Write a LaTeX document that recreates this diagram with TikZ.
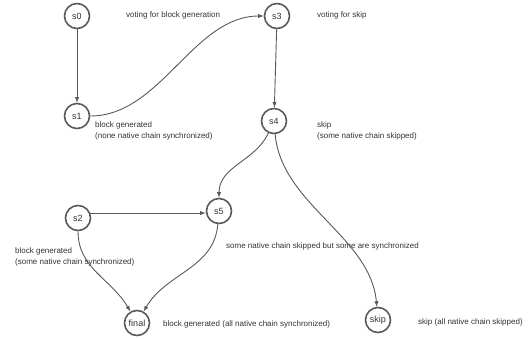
\documentclass[tikz,border=0pt]{standalone}
\usepackage{fontspec}
\setmainfont{Liberation Sans}
\usepackage{tikz}
\definecolor{edgegray}{HTML}{595959}
\definecolor{textgray}{HTML}{333333}

\begin{document}
\begin{tikzpicture}[x=1pt, y=1pt, state/.style={draw=edgegray, circle, minimum size=25pt, inner sep=0pt, line width=1.6pt, text=textgray, font=\fontsize{9}{10}\selectfont}, info/.style={anchor=west, inner sep=0pt, align=left, text=textgray, font=\fontsize{8}{11}\selectfont}, n/.style={-latex, line width=0.9pt, draw=edgegray}]
            \useasboundingbox (0,0) rectangle (531,338);
            % nodes
            \node[state] (s0) at (77,322) {s0};
            \node[state] (s3) at (277,322) {s3};
            \node[state] (s1) at (77,222) {s1};
            \node[state] (s4) at (274,217) {s4};
            \node[state] (s2) at (78,120) {s2};
            \node[state] (s5) at (219,127) {s5};
            \node[state] (final) at (137,15) {final};
            \node[state] (skip) at (378,18) {skip};
            % labels
            \node[info] (i0) at (126,323) {voting for block generation};
            \node[info] (i3) at (317,323) {voting for skip};
            \node[info] (i1) at (95,207) {block generated\\(none native chain synchronized)};
            \node[info] (i4) at (317,207) {skip\\(some native chain skipped)};
            \node[info] (i2) at (15,81) {block generated\\(some native chain synchronized)};
            \node[info] (i5) at (226,92) {some native chain skipped but some are synchronized};
            \node[info] (ifinal) at (163,14) {block generated (all native chain synchronized)};
            \node[info] (iskip) at (418,16) {skip (all native chain skipped)};
            % edges
            \draw [n] (s0) -- (s1);
            \draw [n] (s1) to[out=0, in=180, looseness=0.9] (s3);
            \draw [n] (s3) -- (s4);
            \draw [n] (s4) to[out=-115, in=90] (s5);
            \draw [n] (s4) to[out=-85, in=95, looseness=0.9] (skip);
            \draw [n] (s2.22) -- (s2.22 -| s5.west);
            \draw [n] (s2) to[out=-90, in=120] (final);
            \draw [n] (s5) to[out=-95, in=60] (final);
        \end{tikzpicture}
\end{document}
